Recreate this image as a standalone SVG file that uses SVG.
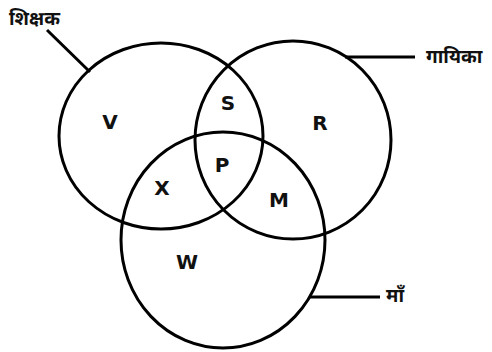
<svg xmlns="http://www.w3.org/2000/svg" width="492" height="352" viewBox="0 0 492 352">
<style>
.c{fill:none;stroke:#000;stroke-width:3}
.l{stroke:#000;stroke-width:3}
.t{font-family:"DejaVu Sans","Liberation Sans",sans-serif;font-weight:bold;font-size:20px;text-anchor:middle;fill:#111}
.h{font-family:"Noto Sans Devanagari","Noto Sans","Lohit Devanagari",sans-serif;font-weight:bold;font-size:19px;fill:#111}
</style>
<rect width="492" height="352" fill="#fff"/>
<g id="shikshak">
<ellipse class="c" cx="161" cy="136" rx="102" ry="93"/>
<text class="h" x="9" y="25">शिक्षक</text>
</g>
<g id="gayika">
<ellipse class="c" cx="293" cy="140" rx="98" ry="99"/>
<text class="h" x="426" y="63">गायिका</text>
</g>
<g id="maa">
<ellipse class="c" cx="223" cy="240" rx="102" ry="108"/>
<text class="h" x="386" y="302">माँ</text>
</g>
<g id="connectors">
<line class="l" x1="47" y1="30" x2="90" y2="72"/>
<line class="l" x1="345" y1="57" x2="415" y2="57"/>
<line class="l" x1="310" y1="297" x2="380" y2="297"/>
</g>
<g id="regions">
<text class="t" x="110" y="129">V</text>
<text class="t" x="228" y="110">S</text>
<text class="t" x="320" y="130">R</text>
<text class="t" x="222" y="172">P</text>
<text class="t" x="162" y="195">X</text>
<text class="t" x="279" y="207">M</text>
<text class="t" x="187" y="269">W</text>
</g>
</svg>
